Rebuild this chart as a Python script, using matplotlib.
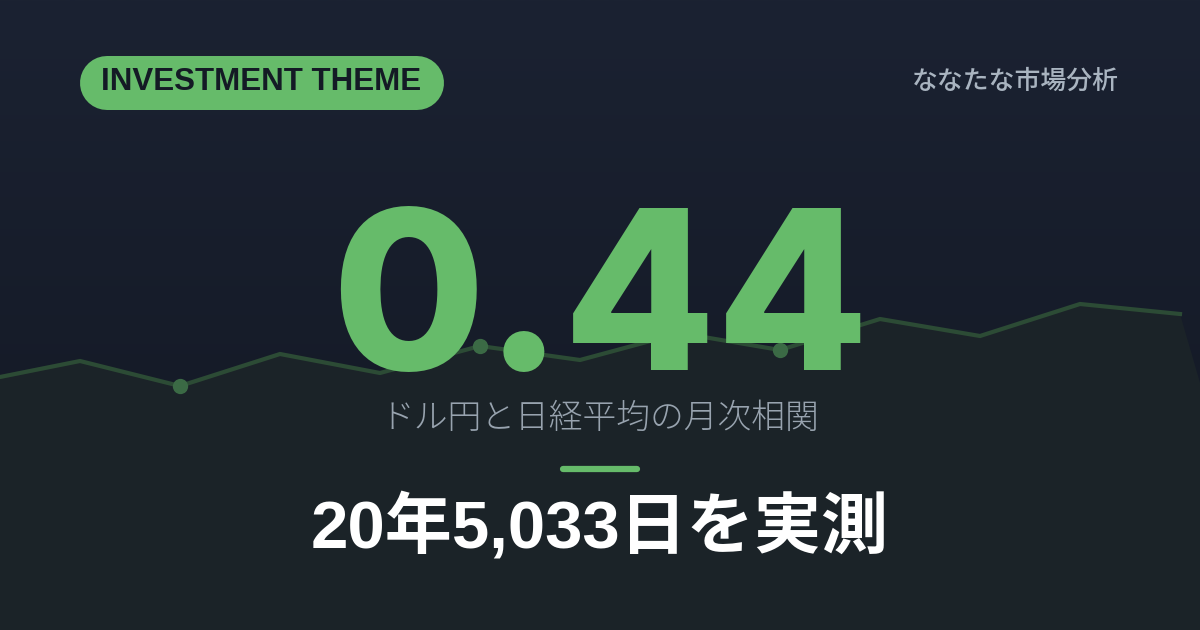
import matplotlib
matplotlib.use("Agg")
import matplotlib.pyplot as plt
import numpy as np
from matplotlib.colors import LinearSegmentedColormap

# ---- data ----
x_pos = [-20, 80, 180, 280, 380, 480, 580, 680, 780, 880, 980, 1080, 1180]
levels = [249, 269, 244, 276, 257, 284, 270, 297, 280, 311, 294, 326, 316]
marker_idx = [2, 5, 8]
headline_value = "0.44"
badge_label = "INVESTMENT THEME"
brand_label = "ななたな市場分析"
subtitle_label = "ドル円と日経平均の月次相関"
footer_label = "20年5,033日を実測"

W, H = 1200, 630
fig = plt.figure(figsize=(12, 6.3), dpi=100)
ax = fig.add_axes([0, 0, 1, 1])
ax.set_xlim(0, W)
ax.set_ylim(0, H)
ax.axis("off")

# background gradient
cmap = LinearSegmentedColormap.from_list("bg", ["#121722", "#1b2232"])
grad = np.linspace(0, 1, 256).reshape(-1, 1)
ax.imshow(grad, extent=[0, W, 0, H], origin="lower", aspect="auto", cmap=cmap, zorder=0)

# area + line
ax.fill(x_pos + [1272, -20], levels + [0, 0], color="#1b2328", zorder=1, lw=0)
ax.plot(x_pos, levels, color="#2c4b35", lw=3, zorder=2, solid_joinstyle="miter")
ax.plot([x_pos[i] for i in marker_idx], [levels[i] for i in marker_idx], "o",
        color="#3b6a45", ms=11, mew=0, zorder=3)

def ty(y):
    return H - y

# badge (pill)
ax.plot([107, 417], [ty(83), ty(83)], color="#66bb6a", lw=54 * 72 / 100,
        solid_capstyle="round", zorder=5)
ax.text(261, ty(82), badge_label, ha="center", va="center", fontsize=22.5,
        fontweight="bold", family=["Liberation Sans", "DejaVu Sans"], color="#141a25", zorder=6)

ax.text(1119, ty(81), brand_label, ha="right", va="center", fontsize=18.6,
        family=["Noto Sans CJK JP", "DejaVu Sans"], fontweight="medium", color="#a9b4c0", zorder=6)

# headline
ax.text(600, ty(370), headline_value, ha="center", va="baseline", fontsize=160,
        fontweight="heavy", family=["Inter", "Liberation Sans"], color="#66bb6a", zorder=6)

ax.text(600, ty(418), subtitle_label, ha="center", va="center", fontsize=24.3,
        family=["Noto Sans CJK JP", "DejaVu Sans"], fontweight="light", color="#98a3af", zorder=6)

ax.plot([563, 637], [ty(469), ty(469)], color="#66bb6a", lw=4.5, solid_capstyle="round", zorder=6)

ax.text(600, ty(528), footer_label, ha="center", va="center", fontsize=48.3,
        family=["Liberation Sans", "Noto Sans CJK JP", "DejaVu Sans"], fontweight="bold",
        color="#ffffff", zorder=6)

fig.savefig("out.png", dpi=100, facecolor="#161b27")
